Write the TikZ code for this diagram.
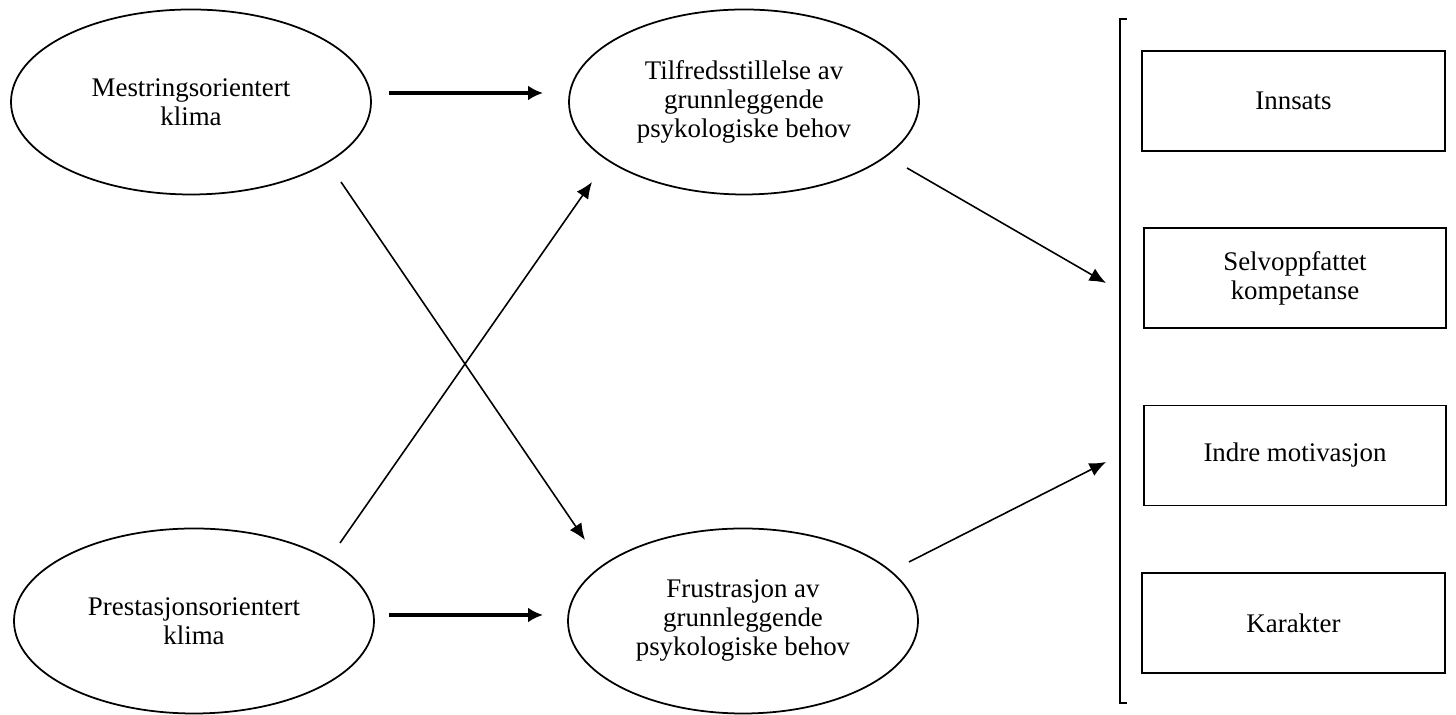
\documentclass[tikz,border=0pt]{standalone}
\usepackage{fontspec}
\setmainfont{Liberation Serif}
\usepackage{tikz}
\usetikzlibrary{positioning, arrows.meta, shapes.geometric}
\tikzset{
    klimanode/.style={ellipse, draw, line width=1pt, minimum width=7.2cm, minimum height=3.7cm, inner sep=0pt, align=center, font=\fontsize{15.3}{16.5}\selectfont},
    behovnode/.style={klimanode, minimum width=7.0cm},
    utfallnode/.style={rectangle, draw, line width=1pt, minimum width=6.05cm, minimum height=2cm, align=center, font=\fontsize{15.3}{16.5}\selectfont},
    tynnpil/.style={-{Latex[length=3.3mm, width=2.8mm]}, line width=0.9pt},
    tykkpil/.style={-{Latex[length=3mm, width=3mm]}, line width=2pt}
}
\begin{document}
\begin{tikzpicture}[scale=1]
                    \useasboundingbox (0,0) rectangle (29.12,14.3);
                    % klima
                    \node[klimanode] (mestring) at (3.82,12.26) {Mestringsorientert\\klima};
                    \node[klimanode] (prestasjon) at (3.88,1.88) {Prestasjonsorientert\\klima};
                    % behov
                    \node[behovnode] (tilfreds) at (14.88,12.26) {Tilfredsstillelse av\\grunnleggende\\psykologiske behov};
                    \node[behovnode] (frustrasjon) at (14.86,1.88) {Frustrasjon av\\grunnleggende\\psykologiske behov};
                    % utfall
                    \node[utfallnode] (innsats) at (25.87,12.28) {Innsats};
                    \node[utfallnode] (selvoppf) at (25.9,8.74) {Selvoppfattet\\kompetanse};
                    \node[utfallnode] (indre) at (25.9,5.19) {Indre motivasjon};
                    \node[utfallnode] (karakter) at (25.87,1.84) {Karakter};
                    
                    % klamme
                    \coordinate (kltopp) at (22.54,13.92);
                    \coordinate (klbunn) at (22.54,0.24);
                    \draw[line width=1pt] (kltopp) -| (22.4,0.24) -- (klbunn);
                    
                    % pilendene
                    \coordinate (m1) at (7.78,12.44);
                    \coordinate (t1) at (10.86,12.44);
                    \coordinate (p1) at (7.78,2.0);
                    \coordinate (f1) at (10.86,2.0);
                    \coordinate (m2) at (6.82,10.66);
                    \coordinate (f2) at (11.70,3.5);
                    \coordinate (p2) at (6.80,3.44);
                    \coordinate (t2) at (11.84,10.66);
                    \coordinate (t3) at (18.14,10.94);
                    \coordinate (u1) at (22.12,8.64);
                    \coordinate (f3) at (18.18,3.06);
                    \coordinate (u2) at (22.12,5.06);
                    
                    \draw[tykkpil] (m1) -- (t1);
                    \draw[tykkpil] (p1) -- (f1);
                    \draw[tynnpil] (m2) -- (f2);
                    \draw[tynnpil] (p2) -- (t2);
                    \draw[tynnpil] (t3) -- (u1);
                    \draw[tynnpil] (f3) -- (u2);
                \end{tikzpicture}
\end{document}
